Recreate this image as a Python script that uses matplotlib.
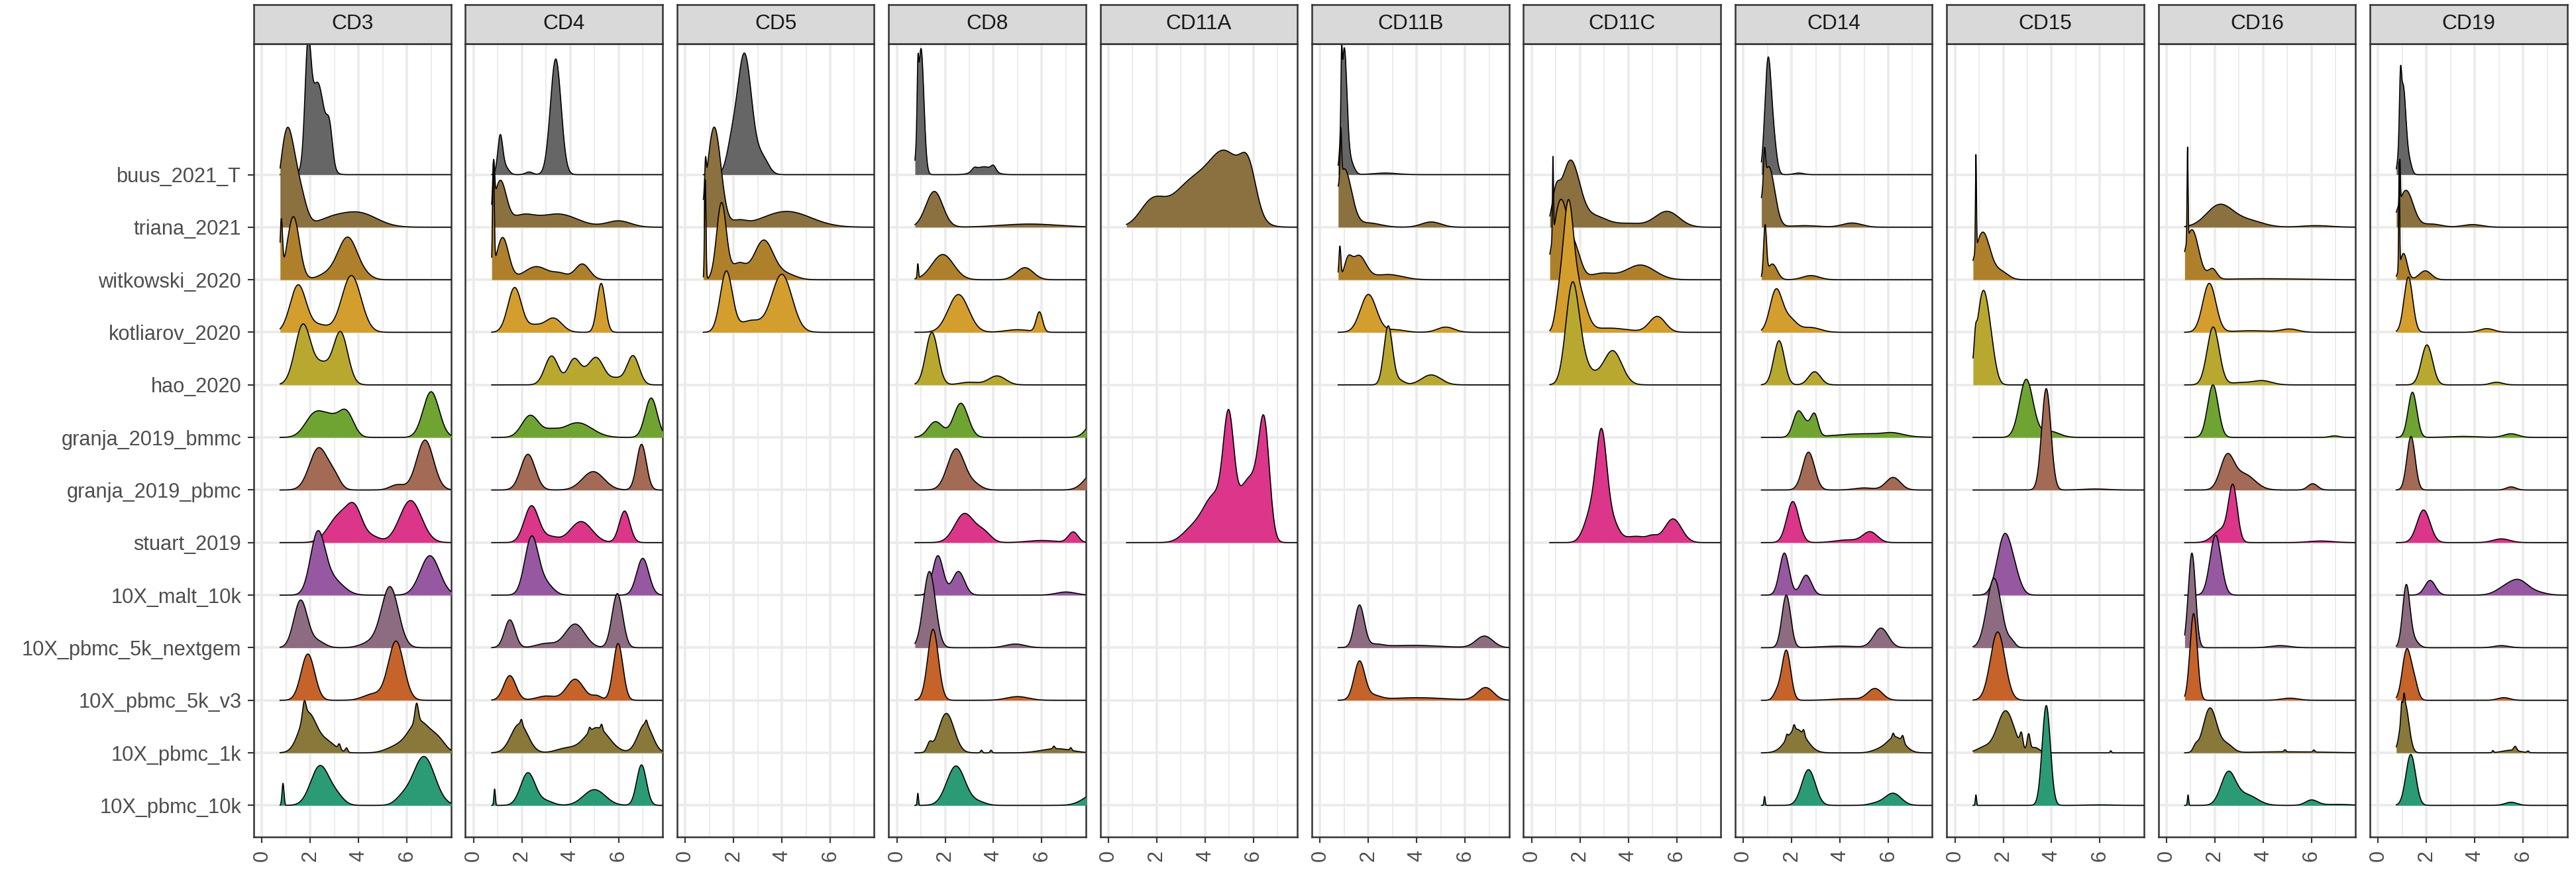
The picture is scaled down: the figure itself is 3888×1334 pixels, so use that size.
import numpy as np
import matplotlib
matplotlib.use("Agg")
import matplotlib.pyplot as plt

plt.rcParams['font.family'] = ['Liberation Sans', 'DejaVu Sans']

# rows, bottom (y=1) to top (y=13)
datasets = ["10X_pbmc_10k", "10X_pbmc_1k", "10X_pbmc_5k_v3", "10X_pbmc_5k_nextgem",
            "10X_malt_10k", "stuart_2019", "granja_2019_pbmc", "granja_2019_bmmc",
            "hao_2020", "kotliarov_2020", "witkowski_2020", "triana_2021", "buus_2021_T"]
fills = ["#2b9b76", "#88783a", "#c5632b", "#8d6c82", "#9659a1", "#db3689", "#a36a55",
         "#70a432", "#b8a830", "#d49e2e", "#ae802c", "#8b7040", "#666666"]
markers = ["CD3", "CD4", "CD5", "CD8", "CD11A", "CD11B", "CD11C", "CD14", "CD15", "CD16", "CD19"]
x_ticks = [0, 2, 4, 6]

# ridge shapes: (centre, width, height in row units)
cd3 = {
    "buus_2021_T": [(1.9, 0.12, 1.9), (2.3, 0.3, 1.75), (2.8, 0.12, 0.6)],
    "triana_2021": [(1.05, 0.3, 1.85), (1.6, 0.25, 0.5), (2.8, 0.6, 0.13), (4.0, 0.75, 0.27)],
    "witkowski_2020": [(0.8, 0.05, 1.0), (1.3, 0.25, 1.2), (2.7, 0.4, 0.1), (3.55, 0.4, 0.8), (4.3, 0.3, 0.05)],
    "kotliarov_2020": [(1.5, 0.33, 0.9), (2.4, 0.35, 0.13), (3.7, 0.4, 1.08)],
    "hao_2020": [(1.7, 0.33, 1.15), (2.5, 0.3, 0.35), (3.25, 0.3, 1.0)],
    "granja_2019_bmmc": [(2.2, 0.4, 0.45), (2.9, 0.35, 0.3), (3.5, 0.3, 0.45), (7.0, 0.33, 0.87)],
    "granja_2019_pbmc": [(2.35, 0.38, 0.8), (3.0, 0.25, 0.2), (5.6, 0.3, 0.1), (6.75, 0.35, 0.95)],
    "stuart_2019": [(3.2, 0.45, 0.5), (3.85, 0.32, 0.55), (4.6, 0.3, 0.1), (6.15, 0.45, 0.8)],
    "10X_malt_10k": [(2.3, 0.3, 1.1), (2.9, 0.45, 0.3), (6.95, 0.4, 0.75)],
    "10X_pbmc_5k_nextgem": [(1.6, 0.28, 0.9), (2.3, 0.3, 0.12), (4.5, 0.4, 0.1), (5.3, 0.35, 1.15)],
    "10X_pbmc_5k_v3": [(1.9, 0.28, 0.88), (4.6, 0.4, 0.12), (5.55, 0.32, 1.12)],
    "10X_pbmc_1k": [(1.75, 0.07, 0.3), (1.9, 0.35, 0.75), (2.7, 0.35, 0.2), (3.2, 0.05, 0.1), (3.5, 0.05, 0.08),
                    (5.5, 0.4, 0.1), (6.4, 0.07, 0.35), (6.5, 0.45, 0.6), (7.3, 0.3, 0.2)],
    "10X_pbmc_10k": [(0.87, 0.04, 0.42), (2.4, 0.38, 0.75), (3.1, 0.3, 0.15), (5.8, 0.3, 0.12), (6.7, 0.45, 0.93)],
}
cd4 = {
    "buus_2021_T": [(1.1, 0.1, 0.7), (1.3, 0.15, 0.15), (2.3, 0.15, 0.05), (3.4, 0.22, 2.2)],
    "triana_2021": [(0.83, 0.04, 0.8), (1.1, 0.25, 0.85), (2.0, 0.5, 0.2), (3.5, 0.8, 0.25), (6.0, 0.5, 0.12)],
    "witkowski_2020": [(0.82, 0.035, 2.0), (1.2, 0.25, 0.8), (2.6, 0.5, 0.25), (3.6, 0.3, 0.1), (4.5, 0.3, 0.3)],
    "kotliarov_2020": [(1.7, 0.28, 0.85), (2.5, 0.3, 0.12), (3.3, 0.35, 0.27), (5.28, 0.17, 0.93)],
    "hao_2020": [(3.23, 0.28, 0.55), (4.14, 0.25, 0.45), (4.6, 0.3, 0.15), (5.1, 0.3, 0.48), (5.9, 0.3, 0.12),
                 (6.6, 0.25, 0.55)],
    "granja_2019_bmmc": [(2.35, 0.35, 0.42), (3.2, 0.3, 0.1), (4.3, 0.6, 0.28), (7.35, 0.25, 0.75)],
    "granja_2019_pbmc": [(2.25, 0.3, 0.68), (4.95, 0.45, 0.35), (6.95, 0.2, 0.87)],
    "stuart_2019": [(2.4, 0.3, 0.7), (3.2, 0.3, 0.1), (4.45, 0.45, 0.4), (6.25, 0.22, 0.6)],
    "10X_malt_10k": [(2.4, 0.28, 1.1), (3.0, 0.3, 0.2), (7.0, 0.25, 0.7)],
    "10X_pbmc_5k_nextgem": [(1.5, 0.22, 0.53), (3.0, 0.4, 0.08), (4.2, 0.4, 0.45), (5.95, 0.22, 1.03)],
    "10X_pbmc_5k_v3": [(1.5, 0.25, 0.47), (3.0, 0.4, 0.08), (4.2, 0.35, 0.4), (5.1, 0.2, 0.08), (5.98, 0.2, 1.08)],
    "10X_pbmc_1k": [(1.9, 0.35, 0.55), (1.98, 0.04, 0.1), (3.8, 0.4, 0.08), (4.8, 0.04, 0.08), (5.1, 0.5, 0.48),
                    (5.3, 0.04, 0.1), (7.1, 0.3, 0.55), (7.15, 0.04, 0.08)],
    "10X_pbmc_10k": [(0.87, 0.03, 0.31), (2.25, 0.3, 0.62), (3.0, 0.3, 0.08), (5.0, 0.45, 0.3), (6.95, 0.2, 0.77)],
}
cd5 = {
    "buus_2021_T": [(1.9, 0.2, 0.4), (2.45, 0.3, 2.3), (3.2, 0.25, 0.3)],
    "triana_2021": [(0.84, 0.03, 0.5), (1.2, 0.28, 1.9), (2.2, 0.3, 0.1), (4.2, 1.0, 0.3)],
    "witkowski_2020": [(0.83, 0.03, 1.9), (1.5, 0.2, 1.45), (2.2, 0.3, 0.3), (3.25, 0.4, 0.75), (4.2, 0.4, 0.1)],
    "kotliarov_2020": [(1.7, 0.25, 1.15), (2.7, 0.45, 0.22), (4.0, 0.42, 1.1)],
}
cd8 = {
    "buus_2021_T": [(0.87, 0.03, 0.9), (1.0, 0.12, 2.4), (3.2, 0.1, 0.06), (3.6, 0.35, 0.15), (4.0, 0.1, 0.1)],
    "triana_2021": [(1.55, 0.35, 0.68), (5.5, 1.2, 0.06)],
    "witkowski_2020": [(0.87, 0.025, 0.27), (1.9, 0.45, 0.48), (5.3, 0.35, 0.23)],
    "kotliarov_2020": [(2.55, 0.42, 0.72), (5.0, 0.5, 0.05), (5.9, 0.13, 0.38)],
    "hao_2020": [(1.45, 0.25, 1.0), (3.0, 0.4, 0.05), (4.15, 0.35, 0.17)],
    "granja_2019_bmmc": [(1.6, 0.3, 0.3), (2.65, 0.3, 0.65), (8.3, 0.35, 0.4)],
    "granja_2019_pbmc": [(2.45, 0.35, 0.78), (3.2, 0.3, 0.1), (8.2, 0.4, 0.35)],
    "stuart_2019": [(2.8, 0.4, 0.55), (3.6, 0.3, 0.18), (6.0, 0.6, 0.04), (7.3, 0.2, 0.2)],
    "10X_malt_10k": [(1.7, 0.22, 0.75), (2.55, 0.25, 0.45), (7.0, 0.4, 0.06)],
    "10X_pbmc_5k_nextgem": [(1.35, 0.25, 1.45), (4.9, 0.4, 0.07)],
    "10X_pbmc_5k_v3": [(1.5, 0.22, 1.35), (5.0, 0.45, 0.07)],
    "10X_pbmc_1k": [(1.35, 0.1, 0.15), (2.05, 0.32, 0.75), (3.5, 0.04, 0.05), (3.9, 0.04, 0.05), (6.5, 0.04, 0.05),
                    (6.6, 0.6, 0.08), (7.2, 0.04, 0.05)],
    "10X_pbmc_10k": [(0.87, 0.025, 0.23), (2.45, 0.38, 0.75), (3.4, 0.3, 0.06), (8.3, 0.5, 0.25)],
}
cd11a = {
    "triana_2021": [(1.8, 0.5, 0.45), (3.4, 0.8, 0.8), (4.9, 0.7, 1.3), (5.8, 0.32, 0.75)],
    "stuart_2019": [(3.4, 0.4, 0.2), (4.4, 0.5, 0.9), (4.98, 0.22, 2.0), (5.5, 0.25, 0.4), (5.95, 0.35, 1.1),
                    (6.45, 0.22, 2.0)],
}
cd11b = {
    "buus_2021_T": [(0.89, 0.025, 1.0), (1.0, 0.11, 2.35), (1.25, 0.15, 0.25), (2.7, 0.5, 0.03)],
    "triana_2021": [(0.86, 0.03, 0.9), (1.0, 0.3, 1.1), (2.0, 0.5, 0.08), (4.6, 0.4, 0.1)],
    "witkowski_2020": [(0.82, 0.04, 0.6), (1.15, 0.15, 0.3), (1.6, 0.3, 0.45), (2.8, 0.6, 0.1)],
    "kotliarov_2020": [(2.0, 0.33, 0.72), (3.1, 0.4, 0.05), (5.2, 0.35, 0.1)],
    "hao_2020": [(2.82, 0.18, 1.12), (3.3, 0.2, 0.08), (4.6, 0.4, 0.19)],
    "10X_pbmc_5k_nextgem": [(1.63, 0.2, 0.8), (2.3, 0.3, 0.05), (3.8, 1.2, 0.045), (6.8, 0.35, 0.22)],
    "10X_pbmc_5k_v3": [(1.63, 0.22, 0.73), (2.2, 0.3, 0.08), (4.0, 1.2, 0.05), (6.85, 0.33, 0.24)],
}
cd11c = {
    "triana_2021": [(1.0, 0.15, 0.45), (1.6, 0.38, 1.25), (2.6, 0.5, 0.2), (4.0, 0.6, 0.07), (5.6, 0.5, 0.3)],
    "witkowski_2020": [(0.88, 0.02, 1.5), (1.2, 0.3, 1.5), (1.8, 0.25, 0.5), (2.9, 0.5, 0.12), (4.5, 0.6, 0.28)],
    "kotliarov_2020": [(1.1, 0.15, 0.4), (1.5, 0.22, 2.25), (1.95, 0.3, 0.75), (3.2, 0.8, 0.08), (5.2, 0.33, 0.3)],
    "hao_2020": [(1.68, 0.27, 1.88), (2.1, 0.25, 0.3), (2.5, 0.3, 0.15), (3.35, 0.38, 0.65)],
    "stuart_2019": [(2.5, 0.3, 0.6), (2.9, 0.22, 1.85), (3.35, 0.25, 0.35), (4.3, 0.5, 0.12), (5.0, 0.2, 0.08),
                    (5.85, 0.35, 0.45)],
}
cd14 = {
    "buus_2021_T": [(1.02, 0.13, 2.1), (1.25, 0.13, 0.6), (2.3, 0.2, 0.03)],
    "triana_2021": [(0.88, 0.04, 0.6), (1.05, 0.25, 1.15), (2.5, 0.6, 0.03), (4.5, 0.4, 0.08)],
    "witkowski_2020": [(0.9, 0.06, 0.95), (1.2, 0.2, 0.3), (2.8, 0.35, 0.08)],
    "kotliarov_2020": [(1.35, 0.25, 0.78), (1.9, 0.3, 0.25), (2.8, 0.4, 0.09)],
    "hao_2020": [(1.48, 0.22, 0.84), (2.95, 0.25, 0.25)],
    "granja_2019_bmmc": [(2.25, 0.2, 0.45), (2.6, 0.2, 0.2), (2.95, 0.15, 0.4), (5.0, 1.2, 0.07), (6.2, 0.4, 0.05)],
    "granja_2019_pbmc": [(2.7, 0.25, 0.72), (5.0, 0.4, 0.04), (6.2, 0.3, 0.24)],
    "stuart_2019": [(2.05, 0.25, 0.78), (4.3, 0.5, 0.05), (5.25, 0.3, 0.2)],
    "10X_malt_10k": [(1.7, 0.2, 0.8), (2.6, 0.22, 0.38)],
    "10X_pbmc_5k_nextgem": [(1.78, 0.18, 1.0), (4.0, 0.8, 0.03), (5.7, 0.3, 0.37)],
    "10X_pbmc_5k_v3": [(1.4, 0.15, 0.15), (1.78, 0.18, 0.95), (4.3, 0.6, 0.03), (5.45, 0.3, 0.22)],
    "10X_pbmc_1k": [(1.8, 0.04, 0.08), (2.1, 0.04, 0.1), (2.2, 0.4, 0.45), (2.5, 0.04, 0.1), (5.6, 0.3, 0.05),
                    (6.2, 0.04, 0.08), (6.3, 0.35, 0.3), (6.6, 0.05, 0.12)],
    "10X_pbmc_10k": [(0.88, 0.025, 0.17), (2.7, 0.28, 0.68), (5.5, 0.3, 0.04), (6.2, 0.33, 0.23)],
}
cd15 = {
    "witkowski_2020": [(0.87, 0.02, 1.8), (1.15, 0.3, 0.9), (1.9, 0.3, 0.15)],
    "hao_2020": [(0.85, 0.05, 0.3), (1.15, 0.25, 1.7), (1.5, 0.2, 0.4)],
    "granja_2019_bmmc": [(2.95, 0.28, 1.1), (3.9, 0.4, 0.12)],
    "granja_2019_pbmc": [(3.78, 0.19, 1.93), (5.8, 0.5, 0.02)],
    "10X_malt_10k": [(2.05, 0.3, 1.12), (2.5, 0.25, 0.25)],
    "10X_pbmc_5k_nextgem": [(1.62, 0.3, 1.32), (2.35, 0.15, 0.1)],
    "10X_pbmc_5k_v3": [(1.77, 0.3, 1.3)],
    "10X_pbmc_1k": [(1.2, 0.3, 0.1), (2.1, 0.35, 0.8), (2.75, 0.06, 0.25), (3.05, 0.06, 0.3), (3.3, 0.2, 0.1),
                    (6.45, 0.03, 0.04)],
    "10X_pbmc_10k": [(0.87, 0.025, 0.2), (3.78, 0.17, 1.9), (6.0, 0.5, 0.01)],
}
cd16 = {
    "triana_2021": [(2.2, 0.55, 0.42), (3.4, 0.6, 0.12), (6.2, 0.6, 0.03)],
    "witkowski_2020": [(0.87, 0.02, 1.75), (1.05, 0.28, 0.95), (1.9, 0.18, 0.2), (4.0, 1.5, 0.02)],
    "kotliarov_2020": [(1.77, 0.27, 0.93), (3.5, 0.8, 0.03), (5.1, 0.35, 0.06)],
    "hao_2020": [(1.93, 0.25, 1.1), (3.0, 0.4, 0.04), (3.95, 0.4, 0.08)],
    "granja_2019_bmmc": [(1.92, 0.22, 1.0), (6.95, 0.2, 0.03)],
    "granja_2019_pbmc": [(2.5, 0.28, 0.6), (3.2, 0.45, 0.3), (6.05, 0.2, 0.12)],
    "stuart_2019": [(2.3, 0.35, 0.25), (2.75, 0.18, 1.0), (6.4, 0.5, 0.03)],
    "10X_malt_10k": [(2.03, 0.23, 1.14)],
    "10X_pbmc_5k_nextgem": [(1.05, 0.15, 1.8), (4.7, 0.4, 0.04)],
    "10X_pbmc_5k_v3": [(1.12, 0.15, 1.65), (5.1, 0.35, 0.04)],
    "10X_pbmc_1k": [(1.2, 0.1, 0.1), (1.8, 0.28, 0.85), (2.5, 0.25, 0.15), (5.0, 1.5, 0.02), (4.9, 0.04, 0.04),
                    (6.1, 0.04, 0.04)],
    "10X_pbmc_10k": [(0.89, 0.025, 0.2), (2.55, 0.3, 0.6), (3.3, 0.45, 0.2), (6.0, 0.25, 0.1), (7.0, 0.6, 0.02)],
}
cd19 = {
    "buus_2021_T": [(0.92, 0.04, 0.9), (1.03, 0.12, 1.7), (1.3, 0.1, 0.2)],
    "triana_2021": [(0.9, 0.02, 0.8), (1.15, 0.3, 0.7), (2.2, 0.4, 0.06), (3.9, 0.4, 0.05)],
    "witkowski_2020": [(0.87, 0.02, 2.0), (1.05, 0.15, 0.5), (1.95, 0.25, 0.17)],
    "kotliarov_2020": [(1.25, 0.18, 1.05), (4.5, 0.3, 0.07)],
    "hao_2020": [(2.02, 0.23, 0.76), (4.9, 0.25, 0.05)],
    "granja_2019_bmmc": [(1.42, 0.18, 0.86), (3.5, 0.6, 0.02), (5.5, 0.3, 0.07)],
    "granja_2019_pbmc": [(1.36, 0.17, 1.02), (5.5, 0.2, 0.06)],
    "stuart_2019": [(1.88, 0.27, 0.62), (5.1, 0.35, 0.07)],
    "10X_malt_10k": [(2.15, 0.22, 0.28), (5.3, 0.4, 0.15), (5.85, 0.35, 0.22), (6.5, 0.4, 0.06)],
    "10X_pbmc_5k_nextgem": [(1.16, 0.15, 1.15), (1.45, 0.2, 0.15), (5.1, 0.3, 0.04)],
    "10X_pbmc_5k_v3": [(1.18, 0.18, 0.95), (1.5, 0.15, 0.3), (5.2, 0.25, 0.05)],
    "10X_pbmc_1k": [(0.97, 0.03, 0.25), (1.07, 0.03, 0.2), (1.1, 0.17, 0.95), (4.75, 0.03, 0.04), (5.5, 0.35, 0.05),
                    (5.67, 0.06, 0.08), (6.2, 0.04, 0.03)],
    "10X_pbmc_10k": [(1.35, 0.2, 0.97), (5.5, 0.25, 0.06)],
}
ridges = [cd3, cd4, cd5, cd8, cd11a, cd11b, cd11c, cd14, cd15, cd16, cd19]

x_start = 0.75  # lowest value in the data, ridges begin here
xs = np.linspace(x_start, 8.3, 1200)


def ridge(bumps):
    d = np.zeros_like(xs)
    for m, s, h in bumps:
        d += h * np.exp(-0.5 * ((xs - m) / s) ** 2)
    return d


W, H = 3888, 1334
fig = plt.figure(figsize=(W / 300, H / 300), dpi=300)

pan_left, pan_w, pan_gap = 383, 297.6, 21.8
pan_top, pan_bot, strip_top = 66, 1263, 6.7
grey20 = "#333333"

for i, (name, data) in enumerate(zip(markers, ridges)):
    x0 = pan_left + i * (pan_w + pan_gap)
    ax = fig.add_axes([x0 / W, (H - pan_bot) / H, pan_w / W, (pan_bot - pan_top) / H])
    ax.set_xlim(-0.34, 7.82)
    ax.set_ylim(0.4, 15.49)

    # top rows first so lower ridges sit in front
    k = 0
    for row in range(len(datasets) - 1, -1, -1):
        ds = datasets[row]
        if ds not in data:
            continue
        base = row + 1
        d = ridge(data[ds])
        ax.fill_between(xs, base, base + d, color=fills[row], lw=0, zorder=3 + 2 * k)
        ax.plot(xs, base + d, color="black", lw=0.4, zorder=4 + 2 * k, solid_joinstyle="round")
        k += 1

    ax.set_xticks(x_ticks)
    ax.set_xticks([1, 3, 5, 7], minor=True)
    ax.set_yticks(range(1, len(datasets) + 1))
    ax.grid(which="major", color="#ebebeb", lw=0.9, zorder=0)
    ax.grid(which="minor", axis="x", color="#ebebeb", lw=0.45, zorder=0)
    ax.set_axisbelow(True)
    ax.set_xticklabels([str(t) for t in x_ticks], rotation=90, fontsize=7.4, color="#4d4d4d")
    ax.tick_params(axis="x", which="major", length=2.1, width=0.5, color=grey20, pad=2.6)
    ax.tick_params(axis="x", which="minor", length=0)
    if i == 0:
        ax.set_yticklabels(datasets, fontsize=7.4, color="#4d4d4d")
        ax.tick_params(axis="y", length=2.1, width=0.5, color=grey20, pad=2.4)
    else:
        ax.tick_params(axis="y", length=0, labelleft=False)
    for sp in ax.spines.values():
        sp.set_color(grey20)
        sp.set_linewidth(0.6)

    sx = fig.add_axes([x0 / W, (H - pan_top) / H, pan_w / W, (pan_top - strip_top) / H])
    sx.set_facecolor("#d9d9d9")
    sx.set_xticks([])
    sx.set_yticks([])
    for sp in sx.spines.values():
        sp.set_color(grey20)
        sp.set_linewidth(0.6)
    sx.text(0.5, 0.5, name, ha="center", va="center", fontsize=7.6, color="#1a1a1a",
            transform=sx.transAxes)

fig.savefig("out.png", dpi=300, facecolor="white")
